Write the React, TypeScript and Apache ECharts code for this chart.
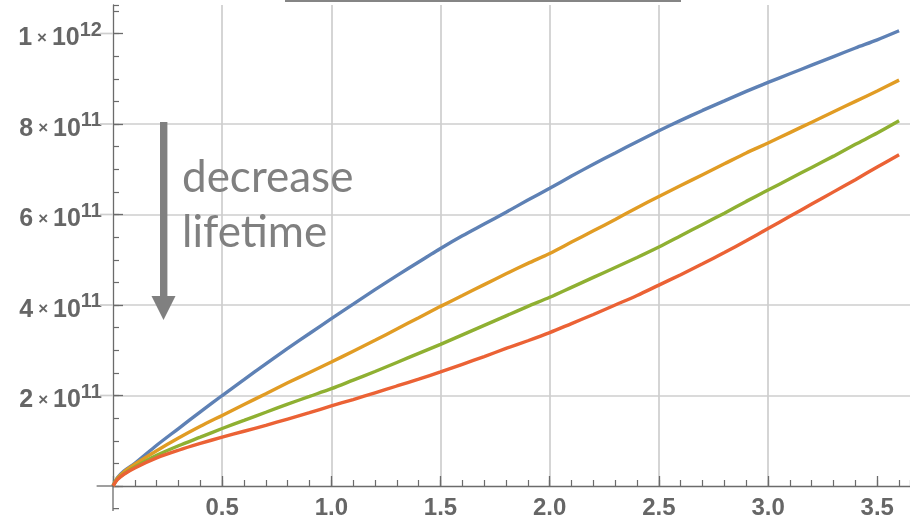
import React, { useEffect, useRef } from "react";
import * as echarts from "echarts";

// x values (dimensionless), y values in units of 1e11
const xValues = [0, 0.02, 0.05, 0.1, 0.2, 0.3, 0.4, 0.5, 0.6, 0.7, 0.8, 0.9, 1.0, 1.1, 1.2, 1.3, 1.4, 1.5, 1.6, 1.7, 1.8, 1.9, 2.0, 2.1, 2.2, 2.3, 2.4, 2.5, 2.6, 2.7, 2.8, 2.9, 3.0, 3.1, 3.2, 3.3, 3.4, 3.5, 3.6];
const blueValues = [0, 0.18, 0.33, 0.5, 0.9, 1.27, 1.64, 2.0, 2.35, 2.7, 3.04, 3.37, 3.7, 4.02, 4.34, 4.65, 4.95, 5.25, 5.53, 5.79, 6.05, 6.32, 6.58, 6.85, 7.11, 7.36, 7.61, 7.85, 8.08, 8.3, 8.51, 8.72, 8.92, 9.11, 9.3, 9.49, 9.68, 9.86, 10.06];
const orangeValues = [0, 0.17, 0.31, 0.48, 0.78, 1.06, 1.32, 1.56, 1.8, 2.04, 2.28, 2.51, 2.74, 2.98, 3.22, 3.47, 3.72, 3.97, 4.21, 4.45, 4.69, 4.92, 5.14, 5.39, 5.64, 5.89, 6.15, 6.4, 6.64, 6.88, 7.12, 7.36, 7.58, 7.81, 8.04, 8.27, 8.5, 8.73, 8.97];
const greenValues = [0, 0.15, 0.27, 0.42, 0.68, 0.89, 1.08, 1.27, 1.45, 1.63, 1.81, 1.98, 2.15, 2.34, 2.53, 2.73, 2.93, 3.13, 3.34, 3.55, 3.76, 3.97, 4.17, 4.39, 4.61, 4.83, 5.05, 5.28, 5.53, 5.78, 6.03, 6.29, 6.54, 6.79, 7.04, 7.29, 7.55, 7.8, 8.07];
const redValues = [0, 0.14, 0.26, 0.4, 0.62, 0.79, 0.94, 1.08, 1.21, 1.34, 1.48, 1.62, 1.77, 1.91, 2.06, 2.21, 2.36, 2.52, 2.69, 2.86, 3.04, 3.21, 3.39, 3.59, 3.79, 4.0, 4.21, 4.44, 4.67, 4.91, 5.16, 5.42, 5.69, 5.96, 6.23, 6.5, 6.77, 7.05, 7.32];

const seriesNames = ["lifetime 1", "lifetime 2", "lifetime 3", "lifetime 4"];
const seriesColors = ["#5E81B5", "#E19C24", "#8FB032", "#EB6235"];

const xMajorTicks = [0, 0.5, 1.0, 1.5, 2.0, 2.5, 3.0, 3.5];
const xTickLabels = ["0.5", "1.0", "1.5", "2.0", "2.5", "3.0", "3.5"];
const yMajorTicks = [0, 2, 4, 6, 8, 10];
const yLabelMantissa = ["2", "4", "6", "8", "1"];
const yLabelExponent = ["11", "11", "11", "11", "12"];
const annotationLines = ["decrease", "lifetime"];

const X_MIN = 0, X_MAX = 3.65, Y_MIN = 0, Y_MAX = 10.63;
const AXIS_COLOR = "#6b6b6b";
const GRID_COLOR = "#cecece";
const LABEL_COLOR = "#666666";
const LABEL_FONT = "'Liberation Sans', Arial, sans-serif";

export default function App() {
  const ref = useRef<HTMLDivElement>(null);

  useEffect(() => {
    if (!ref.current) return;
    const chart = echarts.init(ref.current, null, { renderer: "svg" });
    const allSeries = [blueValues, orangeValues, greenValues, redValues];

    chart.setOption({
      animation: false,
      grid: { left: 113, right: 0, top: 5, bottom: 37 },
      xAxis: [
        {
          type: "value",
          min: X_MIN,
          max: X_MAX,
          interval: 0.5,
          position: "bottom",
          axisLine: { show: true, onZero: false, lineStyle: { color: AXIS_COLOR, width: 1.3 } },
          axisTick: { show: true, inside: true, length: 10, customValues: xMajorTicks, lineStyle: { color: AXIS_COLOR, width: 1.3 } },
          axisLabel: {
            show: true,
            customValues: xMajorTicks.slice(1),
            formatter: (v: number) => {
              const i = xMajorTicks.indexOf(v);
              return i > 0 ? xTickLabels[i - 1] : "";
            },
            fontSize: 24,
            fontWeight: "bold",
            color: LABEL_COLOR,
            fontFamily: LABEL_FONT,
            margin: 8,
          },
          splitLine: { show: true, showMinLine: false, showMaxLine: false, lineStyle: { color: GRID_COLOR, width: 1.7 } },
        },
        {
          type: "value",
          min: X_MIN,
          max: X_MAX,
          interval: 0.1,
          position: "bottom",
          axisLine: { show: false },
          axisTick: { show: true, inside: true, length: 6, lineStyle: { color: AXIS_COLOR, width: 1.2 } },
          axisLabel: { show: false },
          splitLine: { show: false },
        },
      ],
      yAxis: [
        {
          type: "value",
          min: Y_MIN,
          max: Y_MAX,
          interval: 2,
          position: "left",
          axisLine: { show: true, onZero: false, lineStyle: { color: AXIS_COLOR, width: 1.3 } },
          axisTick: { show: true, inside: true, length: 10, customValues: yMajorTicks, lineStyle: { color: AXIS_COLOR, width: 1.3 } },
          axisLabel: {
            show: true,
            customValues: yMajorTicks.slice(1),
            margin: 11,
            formatter: (v: number) => {
              const i = yMajorTicks.indexOf(v);
              if (i <= 0) return "";
              return `{m|${yLabelMantissa[i - 1]}}{x|×}{m|10}{s|${yLabelExponent[i - 1]}}`;
            },
            rich: {
              m: { fontSize: 25, fontWeight: "bold", color: LABEL_COLOR, fontFamily: LABEL_FONT, verticalAlign: "bottom", lineHeight: 30 },
              x: { fontSize: 17, fontWeight: "bold", color: LABEL_COLOR, fontFamily: LABEL_FONT, verticalAlign: "bottom", padding: [0, 5, 3, 5], lineHeight: 30 },
              s: { fontSize: 20, fontWeight: "bold", color: LABEL_COLOR, fontFamily: LABEL_FONT, verticalAlign: "top", lineHeight: 30 },
            },
          },
          splitLine: { show: true, showMinLine: false, showMaxLine: false, lineStyle: { color: GRID_COLOR, width: 1.7 } },
        },
        {
          type: "value",
          min: Y_MIN,
          max: Y_MAX,
          interval: 0.5,
          position: "left",
          axisLine: { show: false },
          axisTick: { show: true, inside: true, length: 6, lineStyle: { color: AXIS_COLOR, width: 1.2 } },
          axisLabel: { show: false },
          splitLine: { show: false },
        },
      ],
      series: allSeries.map((vals, k) => ({
        name: seriesNames[k],
        type: "line",
        xAxisIndex: 0,
        yAxisIndex: 0,
        data: xValues.map((x, i) => [x, vals[i]]),
        showSymbol: false,
        smooth: 0.3,
        lineStyle: { color: seriesColors[k], width: 3.4 },
        itemStyle: { color: seriesColors[k] },
        z: 3,
      })),
    });

    const px = (x: number, y: number) => chart.convertToPixel({ gridIndex: 0 }, [x, y]) as number[];
    const origin = px(0, 0);
    const bottomExt = px(0, -0.55);
    const minorBelow = px(0, -0.5);
    const leftExt = px(-0.075, 0);
    const gridLeft = px(-0.06, 0)[0];
    const lineStyle = { stroke: AXIS_COLOR, lineWidth: 1.3 };

    const graphics: any[] = [
      { type: "line", shape: { x1: origin[0], y1: origin[1], x2: bottomExt[0], y2: bottomExt[1] }, style: lineStyle, z: 5 },
      { type: "line", shape: { x1: minorBelow[0], y1: minorBelow[1], x2: minorBelow[0] + 6, y2: minorBelow[1] }, style: { stroke: AXIS_COLOR, lineWidth: 1.2 }, z: 5 },
      { type: "line", shape: { x1: leftExt[0], y1: leftExt[1], x2: origin[0], y2: origin[1] }, style: lineStyle, z: 5 },
      { type: "line", shape: { x1: 285, y1: 1, x2: 681, y2: 1 }, style: { stroke: "#858585", lineWidth: 2 }, z: 5 },
      { type: "rect", shape: { x: 160, y: 122, width: 7.4, height: 176 }, style: { fill: "#808080" }, z: 6 },
      { type: "polygon", shape: { points: [[151.5, 296], [175.5, 296], [163.5, 320]] }, style: { fill: "#808080" }, z: 6 },
    ];
    yMajorTicks.slice(1).forEach((v) => {
      const p = px(0, v);
      graphics.push({ type: "line", shape: { x1: gridLeft, y1: p[1], x2: p[0], y2: p[1] }, style: { stroke: GRID_COLOR, lineWidth: 1.7 }, z: 1 });
    });
    annotationLines.forEach((t, i) => {
      graphics.push({
        type: "text",
        x: 182,
        y: 175 + i * 55,
        style: { text: t, font: "44px Lato, sans-serif", fill: "#808080", verticalAlign: "middle", align: "left" },
        z: 7,
      });
    });
    chart.setOption({ graphic: graphics });

    return () => chart.dispose();
  }, []);

  return <div ref={ref} style={{ position: "fixed", left: 0, top: 0, width: 910, height: 523 }} />;
}
